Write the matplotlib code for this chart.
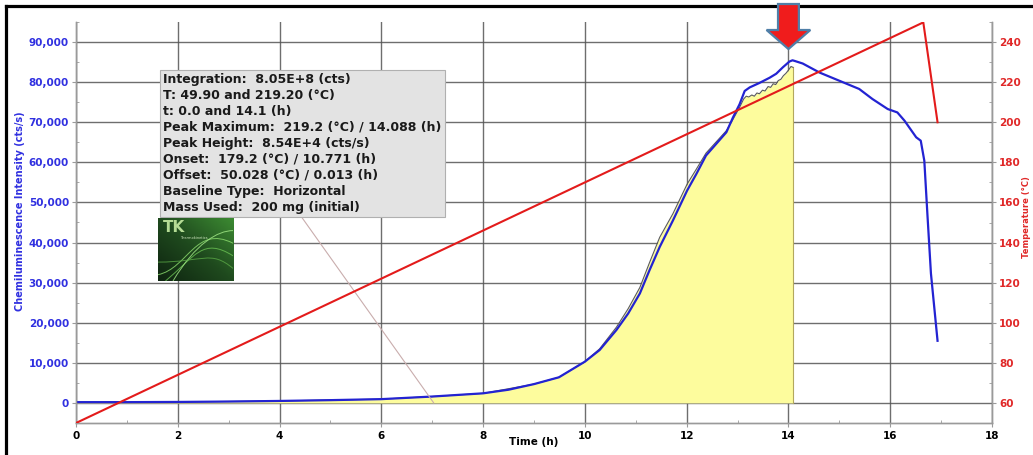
import numpy as np
import matplotlib.pyplot as plt
import matplotlib.transforms as mtransforms
from matplotlib.ticker import MultipleLocator, FuncFormatter
from matplotlib.patches import Polygon, PathPatch
from matplotlib.path import Path
from matplotlib.lines import Line2D
from matplotlib.colors import LinearSegmentedColormap

plt.rcParams['font.family'] = 'DejaVu Sans'
plt.rcParams['font.weight'] = 'bold'

# Courbe de chimiluminescence (lissée)
chem_time = [0, 1, 2, 3, 4, 5, 6, 7, 8, 8.5, 9, 9.49, 9.83, 10, 10.29, 10.62,
             10.85, 11.08, 11.27, 11.47, 11.73, 12.01, 12.19, 12.38, 12.58,
             12.78, 12.91, 13.04, 13.14, 13.24, 13.43, 13.63, 13.76, 13.89,
             14.02, 14.08, 14.12, 14.28, 14.61, 15.0, 15.39, 15.65, 15.95,
             16.14, 16.28, 16.51, 16.60, 16.67, 16.73, 16.80, 16.93]
chem_counts = [200, 200, 250, 350, 500, 700, 950, 1600, 2400, 3300, 4700, 6400,
               9000, 10300, 13200, 18200, 22300, 27300, 33100, 38900, 45500,
               53000, 57100, 61700, 64600, 67500, 71200, 74500, 77800, 78700,
               79800, 81100, 82100, 83700, 85150, 85450, 85300, 84650, 82400,
               80350, 78300, 75800, 73300, 72450, 70400, 66250, 65400, 60400,
               47200, 32300, 15500]

# Signal brut (aire intégrée)
raw_time = [0, 2, 4, 6, 7, 8, 9, 9.49, 10, 10.29, 10.62, 10.85, 11.08, 11.27,
            11.47, 11.73, 12.01, 12.19, 12.38, 12.58, 12.78, 12.91, 13.04,
            13.12, 13.17, 13.22, 13.28, 13.33, 13.38, 13.43, 13.49, 13.54,
            13.6, 13.65, 13.7, 13.75, 13.8, 13.85, 13.9, 13.95, 14.0, 14.05,
            14.088]
raw_counts = [200, 250, 500, 950, 1600, 2400, 4700, 6400, 10300, 13500, 18900,
              23500, 28800, 35000, 41300, 47200, 54600, 58300, 62300, 65100,
              67900, 70700, 73700, 75800, 76500, 76300, 76800, 76500, 77300,
              77100, 78000, 77800, 78900, 78700, 79600, 79400, 80400, 80700,
              81600, 82200, 83000, 83900, 83700]

# Température du four
temp_time = [0, 16.65, 16.93]
temp_c = [50, 249.8, 200]

peak_time = 14.088
leader_time = 7.03

info_lines = [
    "Integration:  8.05E+8 (cts)",
    "T: 49.90 and 219.20 (°C)",
    "t: 0.0 and 14.1 (h)",
    "Peak Maximum:  219.2 (°C) / 14.088 (h)",
    "Peak Height:  8.54E+4 (cts/s)",
    "Onset:  179.2 (°C) / 10.771 (h)",
    "Offset:  50.028 (°C) / 0.013 (h)",
    "Baseline Type:  Horizontal",
    "Mass Used:  200 mg (initial)",
]

W, H = 1033, 455
fig = plt.figure(figsize=(W / 100, H / 100), dpi=100)
ax = fig.add_axes([76 / W, 32 / H, 916 / W, 401 / H])
ax2 = ax.twinx()

blue = '#2323d2'
red = '#e31b1b'
grey_spine = '#9a9a9a'

# aire jaune + courbes
ax.fill_between(raw_time, 0, raw_counts, color='#fdfc9d', lw=0, zorder=2)
ax.plot([raw_time[-1], raw_time[-1]], [0, raw_counts[-1]], color='#b3a85e', lw=0.8, zorder=2.5)
ax.plot(raw_time, raw_counts, color='#5a5a5a', lw=0.8, zorder=3)
ax.plot(chem_time, chem_counts, color=blue, lw=1.6, zorder=4)
ax2.plot(temp_time, temp_c, color=red, lw=1.5, zorder=4)

ax.set_xlim(0, 18)
ax.set_ylim(-5000, 95000)
ax2.set_ylim(50, 250)

ax.set_axisbelow(True)
ax.grid(True, which='major', color='#555555', lw=1.0, alpha=0.85)

for a in (ax, ax2):
    a.spines['top'].set_visible(False)
    for s in ('left', 'right', 'bottom'):
        a.spines[s].set_color(grey_spine)
        a.spines[s].set_linewidth(1.0)

ax.set_xticks(range(0, 19, 2))
ax.xaxis.set_minor_locator(MultipleLocator(1))
ax.set_yticks(range(0, 90001, 10000))
ax.yaxis.set_minor_locator(MultipleLocator(5000))
ax.yaxis.set_major_formatter(FuncFormatter(lambda v, p: f'{v:,.0f}'))
ax2.set_yticks(range(60, 241, 20))
ax2.yaxis.set_minor_locator(MultipleLocator(10))

ax.tick_params(axis='x', which='major', length=3, pad=3, color=grey_spine, labelsize=7.5, labelcolor='black')
ax.tick_params(axis='x', which='minor', length=2, direction='in', color=grey_spine)
ax.tick_params(axis='y', which='major', length=3, pad=2, color=grey_spine, labelsize=7.5, labelcolor='#3030e0')
ax.tick_params(axis='y', which='minor', length=2, direction='in', color=grey_spine)
ax2.tick_params(axis='y', which='major', length=3, pad=2, color=grey_spine, labelsize=7.5, labelcolor='#e02828')
ax2.tick_params(axis='y', which='minor', length=2, direction='in', color=grey_spine)

ax.set_xlabel('Time (h)', fontsize=7.5, fontweight='bold')
ax.xaxis.set_label_coords(0.5, -0.035)
ax.set_ylabel('Chemiluminescence Intensity (cts/s)', fontsize=7, fontweight='bold', color='#3030e0')
ax.yaxis.set_label_coords(-0.056, 0.527)
ax2.set_ylabel('Temperature (°C)', fontsize=6, fontweight='bold', color='#e02828')
ax2.yaxis.set_label_coords(1.033, 0.514)

# boîte d'informations avec trait de rappel
ax.annotate('\n'.join(info_lines), xy=(leader_time, 0), xycoords='data',
            xytext=(163, H - 73), textcoords='figure pixels',
            ha='left', va='top', fontsize=9, fontweight='bold', linespacing=1.3,
            color='#1a1a1a', zorder=8,
            bbox=dict(boxstyle='square,pad=0.25', fc='#e3e3e3', ec='#b0b0b0', lw=0.8),
            arrowprops=dict(arrowstyle='-', color='#c9adad', lw=0.8,
                            relpos=(0.31, 0.5), shrinkA=0, shrinkB=0))

# logo
lax = fig.add_axes([158 / W, (H - 281) / H, 75 / W, 63 / H])
gx, gy = np.meshgrid(np.linspace(0, 1, 40), np.linspace(0, 1, 40))
cmap = LinearSegmentedColormap.from_list('tk', ['#0e2410', '#1f4a1e', '#3c8a32'])
lax.imshow(0.5 * gx + 0.5 * gy, cmap=cmap, origin='lower', extent=(0, 1, 0, 1), aspect='auto')
for (p0, p1, p2, p3, c) in [((0.0, 0.1), (0.4, 0.2), (0.5, 0.9), (1.0, 0.6), '#8fe070'),
                            ((0.1, 0.0), (0.5, 0.4), (0.6, 0.7), (1.0, 0.4), '#6cc454'),
                            ((0.2, 0.0), (0.5, 0.6), (0.8, 0.8), (1.0, 0.8), '#a6ec8a'),
                            ((0.0, 0.3), (0.6, 0.3), (0.7, 0.5), (1.0, 0.2), '#5aa846')]:
    path = Path([p0, p1, p2, p3], [Path.MOVETO, Path.CURVE4, Path.CURVE4, Path.CURVE4])
    lax.add_patch(PathPatch(path, fc='none', ec=c, lw=0.7, alpha=0.8))
lax.text(0.06, 0.97, 'TK', transform=lax.transAxes, ha='left', va='top',
         fontsize=11, fontweight='bold', color='#b5dc95')
lax.text(0.3, 0.68, 'Thermokinetics', transform=lax.transAxes, ha='left', va='center',
         fontsize=2.5, fontweight='normal', color='#d5ecc5')
lax.set_xlim(0, 1)
lax.set_ylim(0, 1)
lax.axis('off')

# cadre noir de la capture
fig.add_artist(Line2D([5.5 / W, 5.5 / W], [0, 1 - 6 / H], transform=fig.transFigure, color='black', lw=2.3, zorder=3))
fig.add_artist(Line2D([5.5 / W, 1], [1 - 6 / H, 1 - 6 / H], transform=fig.transFigure, color='black', lw=2.3, zorder=3))

# flèche rouge au-dessus du pic
trans = mtransforms.blended_transform_factory(ax.transData, fig.transFigure)
cx, bw, hw = 14.0, 0.205, 0.43
y_top, y_neck, y_tip = 1 - 4 / H, 1 - 30 / H, 1 - 49 / H
verts = [(cx - bw, y_top), (cx + bw, y_top), (cx + bw, y_neck), (cx + hw, y_neck),
         (cx, y_tip), (cx - hw, y_neck), (cx - bw, y_neck)]
fig.add_artist(Polygon(verts, closed=True, transform=trans, fc='#f01c1c', ec='#4f7fa8', lw=1.6, zorder=10))

fig.savefig('out.png', dpi=100)
